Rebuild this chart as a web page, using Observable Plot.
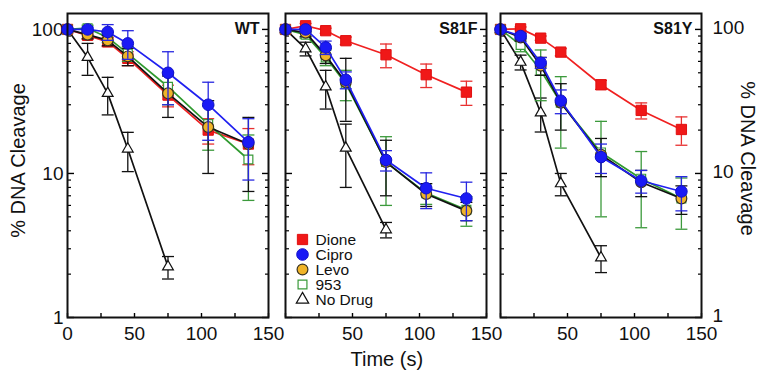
<!DOCTYPE html>
<html><head><meta charset="utf-8">
<script src="https://cdn.jsdelivr.net/npm/d3@7"></script>
<script src="https://cdn.jsdelivr.net/npm/@observablehq/plot@0.6"></script>
<style>
body{margin:0;background:#fff;}
#chart{position:relative;width:760px;height:372px;font-family:"Liberation Sans",Arial,Helvetica,sans-serif;overflow:hidden;}
#chart svg{position:absolute;left:0;top:0;}
.lbl{position:absolute;white-space:nowrap;font-size:20px;color:#111;transform-origin:center;}
</style></head>
<body><div id="chart"></div>
<script>
// ---------- data ----------
const times = [0, 15, 30, 45, 75, 105, 135];
const noDrugTimes = [0, 15, 30, 45, 75];
const panelNames = ["WT", "S81F", "S81Y"];
const seriesNames = ["Dione", "Cipro", "Levo", "953", "No Drug"];
const yMajorTicks = [1, 10, 100];
const yMinorTicks = [2, 3, 4, 5, 6, 7, 8, 9, 20, 30, 40, 50, 60, 70, 80, 90];
const xTicks = [0, 25, 50, 75, 100, 125, 150];
const xLabelsFirst = [0, 50, 100, 150];
const xLabelsOther = [50, 100, 150];

// WT
const wtDione = [100, 91, 82, 63, 35, 20, 16];
const wtDioneErr = [0, 5, 6, 7, 6, 4, 4.5];
const wtCipro = [100, 100, 96, 80, 50, 30, 16.5];
const wtCiproErr = [0, 4, 12, 18, 20, 13, 7.5];
const wtLevo = [100, 92, 84, 65, 36, 21, 16];
const wtLevoErr = [0, 6, 7, 9, 11.5, 11, 8.5];
const wt953 = [100, 102, 88, 68, 40, 22, 12.5];
const wt953Err = [0, 5, 7, 8, 10, 7.5, 6];
const wtNoDrug = [100, 64, 36, 14.8, 2.25];
const wtNoDrugErr = [0, 16, 10.5, 4.5, 0.4];

// S81F
const s81fDione = [100, 106, 98, 83.5, 66.7, 48.5, 36.7];
const s81fDioneErr = [0, 4, 4, 5, 12.5, 9, 7];
const s81fCipro = [100, 100, 75, 44.7, 12.4, 7.9, 6.7];
const s81fCiproErr = [0, 4, 8, 6, 2, 2.2, 2];
const s81fLevo = [100, 95, 66, 43, 12, 7.2, 5.5];
const s81fLevoErr = [0, 6, 8, 20, 5, 1.3, 0.8];
const s81f953 = [100, 92, 64, 42, 12, 7.3, 5.6];
const s81f953Err = [0, 5, 8, 10, 6, 1.2, 1.3];
const s81fNoDrug = [100, 73.5, 40, 15, 4.07];
const s81fNoDrugErr = [0, 8, 12, 7, 0.5];

// S81Y
const s81yDione = [100, 101, 87, 69.6, 41.3, 27.4, 20.2];
const s81yDioneErr = [0, 3, 3, 4, 3, 3.5, 4.5];
const s81yCipro = [100, 90, 58.7, 32, 13, 8.9, 7.5];
const s81yCiproErr = [0, 4, 5, 6, 3, 1.6, 2];
const s81yLevo = [100, 88, 56, 31, 13.5, 8.7, 6.7];
const s81yLevoErr = [0, 5, 8, 11, 4, 1.8, 1.5];
const s81y953 = [100, 78, 52, 31, 14, 9.2, 6.7];
const s81y953Err = [0, 8, 20, 16, 9, 5, 2.6];
const s81yNoDrug = [100, 59.3, 26.4, 8.5, 2.6];
const s81yNoDrugErr = [0, 7, 7, 1.5, 0.55];

// ---------- assembly ----------
const panelSeries = [
  {Dione: [wtDione, wtDioneErr], Cipro: [wtCipro, wtCiproErr], Levo: [wtLevo, wtLevoErr], "953": [wt953, wt953Err], "No Drug": [wtNoDrug, wtNoDrugErr]},
  {Dione: [s81fDione, s81fDioneErr], Cipro: [s81fCipro, s81fCiproErr], Levo: [s81fLevo, s81fLevoErr], "953": [s81f953, s81f953Err], "No Drug": [s81fNoDrug, s81fNoDrugErr]},
  {Dione: [s81yDione, s81yDioneErr], Cipro: [s81yCipro, s81yCiproErr], Levo: [s81yLevo, s81yLevoErr], "953": [s81y953, s81y953Err], "No Drug": [s81yNoDrug, s81yNoDrugErr]}
];

const styles = {
  "Dione":   {line: "#f02020", err: "#e83030", symbol: "square", r: 5.8, fill: "#f01818", stroke: "#e01010", sw: 1},
  "Cipro":   {line: "#2020f0", err: "#2828e0", symbol: "circle", r: 5.8, fill: "#1a1af5", stroke: "#1010c8", sw: 1},
  "Levo":    {line: "#111111", err: "#111111", symbol: "circle", r: 5.4, fill: "#f0b428", stroke: "#3a3320", sw: 1.2},
  "953":     {line: "#2f9a2f", err: "#3c9a3c", symbol: "square", r: 5.0, fill: "#ffffff", stroke: "#3a9a3a", sw: 1.2},
  "No Drug": {line: "#111111", err: "#111111", symbol: "triangle", r: 4.0, fill: "#ffffff", stroke: "#111111", sw: 1.2}
};
const drawOrder = ["No Drug", "Dione", "953", "Levo", "Cipro"];

const lefts = [67, 285, 500];
const rights = [268, 486, 701];
const TOP = 13, BOTTOM = 317, W = 760, H = 372;
const FONT = '"Liberation Sans", Arial, Helvetica, sans-serif';

const capSymbol = {
  draw(ctx, size) { const w = Math.sqrt(size / Math.PI); ctx.moveTo(-w, 0); ctx.lineTo(w, 0); }
};

function rowsFor(p, name) {
  const [vals, errs] = panelSeries[p][name];
  const ts = name === "No Drug" ? noDrugTimes : times;
  return vals.map((v, i) => ({t: ts[i], v, lo: Math.max(1.02, v - errs[i]), hi: v + errs[i], e: errs[i]}));
}

function makePanel(p) {
  const L = lefts[p], R = rights[p];
  const marks = [];
  for (const anchor of ["left", "right"]) {
    marks.push(Plot.axisY({anchor, label: null, ticks: yMajorTicks, tickSize: -7, tickFormat: () => "", strokeWidth: 1.4}));
    marks.push(Plot.axisY({anchor, label: null, ticks: yMinorTicks, tickSize: -4, tickFormat: () => "", strokeWidth: 1.2}));
  }
  marks.push(Plot.axisX({anchor: "bottom", label: null, ticks: xTicks, tickSize: -4, tickFormat: () => "", strokeWidth: 1.4}));
  marks.push(Plot.axisX({anchor: "bottom", label: null, ticks: p === 0 ? xLabelsFirst : xLabelsOther, tickSize: 0, tickPadding: 9,
    tickFormat: d3.format("d"), fontSize: 19, fill: "#111"}));
  if (p === 0) marks.push(Plot.axisY({anchor: "left", label: null, ticks: yMajorTicks, tickSize: 0, tickPadding: 4, tickFormat: d3.format("d"), fontSize: 19, fill: "#111"}));
  if (p === 2) marks.push(Plot.axisY({anchor: "right", label: null, ticks: yMajorTicks, tickSize: 0, tickPadding: 11, dy: -2, tickFormat: d3.format("d"), fontSize: 19, fill: "#111"}));

  for (const name of drawOrder) {
    const s = styles[name];
    const rows = rowsFor(p, name);
    const withErr = rows.filter(d => d.e > 0);
    marks.push(Plot.line(rows, {x: "t", y: "v", stroke: s.line, strokeWidth: 1.7}));
    marks.push(Plot.ruleX(withErr, {x: "t", y1: "lo", y2: "hi", stroke: s.err, strokeWidth: 1.3}));
    marks.push(Plot.dot(withErr, {x: "t", y: "hi", symbol: capSymbol, r: 6, stroke: s.err, fill: "none", strokeWidth: 1.3}));
    marks.push(Plot.dot(withErr.filter(d => d.v - d.e >= 1.02), {x: "t", y: "lo", symbol: capSymbol, r: 6, stroke: s.err, fill: "none", strokeWidth: 1.3}));
    marks.push(Plot.dot(rows, {x: "t", y: "v", symbol: s.symbol, r: s.r, fill: s.fill, stroke: s.stroke, strokeWidth: s.sw}));
  }
  marks.push(Plot.text([panelNames[p]], {text: d => d, frameAnchor: "top-right", dx: -9, dy: 9, textAnchor: "end", lineAnchor: "top",
    fontSize: 16, fontWeight: "bold", fill: "#111"}));
  if (p === 1) {
    seriesNames.forEach((name, i) => {
      const s = styles[name];
      const dy = -78 + i * 15;
      const r = name === "No Drug" ? 4.6 : s.r;
      marks.push(Plot.dot([name], {frameAnchor: "bottom-left", dx: 17, dy, symbol: s.symbol, r, fill: s.fill, stroke: s.stroke, strokeWidth: s.sw}));
      marks.push(Plot.text([name], {text: d => d, frameAnchor: "bottom-left", dx: 30, dy: dy + 1, textAnchor: "start", lineAnchor: "middle", fontSize: 15.5, fill: "#111"}));
    });
  }
  marks.push(Plot.frame({stroke: "#111", strokeWidth: 2}));

  return Plot.plot({
    width: W, height: H,
    marginLeft: L, marginRight: W - R, marginTop: TOP, marginBottom: H - BOTTOM,
    x: {domain: [0, 150]},
    y: {type: "log", domain: [1, 129]},
    style: {background: "transparent", fontFamily: FONT, overflow: "visible"},
    marks
  });
}

const chart = document.getElementById("chart");
for (let p = 0; p < 3; p++) chart.appendChild(makePanel(p));

function addLabel(text, cx, cy, rot) {
  const d = document.createElement("div");
  d.className = "lbl";
  d.textContent = text;
  chart.appendChild(d);
  d.style.left = (cx - d.offsetWidth / 2) + "px";
  d.style.top = (cy - d.offsetHeight / 2) + "px";
  if (rot) d.style.transform = `rotate(${rot}deg)`;
}
addLabel("% DNA Cleavage", 18, 160, -90);
addLabel("% DNA Cleavage", 747, 158, 90);
addLabel("Time (s)", 387, 359, 0);
</script>
</body></html>
